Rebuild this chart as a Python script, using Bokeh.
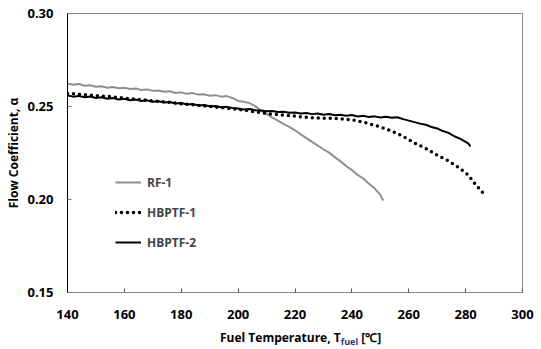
from bokeh.plotting import figure
from bokeh.models import Range1d, Legend, LegendItem, FixedTicker, CustomJSTickFormatter, Div
from bokeh.layouts import column
from bokeh.embed import file_html
from bokeh.resources import INLINE

# ---- data ----
rf1_t = [140, 142, 144, 146, 148, 150, 152, 154, 156, 158, 160, 162, 164, 166, 168, 170,
         172, 174, 176, 178, 180, 182, 184, 186, 188, 190, 192, 194, 196, 198, 200, 202,
         204, 206, 208, 210, 212, 214, 216, 218, 220, 222, 224, 226, 228, 230, 232, 234,
         236, 238, 240, 242, 244, 246, 248, 250, 251]
rf1_a = [0.2622, 0.2617, 0.2621, 0.2612, 0.2614, 0.2606, 0.2609, 0.2601, 0.2605, 0.2598,
         0.2601, 0.2594, 0.2597, 0.2589, 0.2592, 0.2584, 0.2586, 0.2579, 0.2582, 0.2573,
         0.2576, 0.2568, 0.2572, 0.2564, 0.2566, 0.2558, 0.2561, 0.2553, 0.2556, 0.2546,
         0.2530, 0.2526, 0.2518, 0.2502, 0.2478, 0.2460, 0.2440, 0.2424, 0.2405, 0.2390,
         0.2372, 0.2350, 0.2330, 0.2310, 0.2290, 0.2270, 0.2252, 0.2228, 0.2205, 0.2180,
         0.2158, 0.2132, 0.2113, 0.2085, 0.2060, 0.2025, 0.1995]

hb1_t = [140, 145, 150, 155, 160, 165, 170, 175, 180, 185, 190, 195, 200, 205, 210, 215,
         220, 225, 230, 235, 240, 245, 250, 254, 258, 262, 266, 270, 274, 278, 281, 283,
         285, 286.3]
hb1_a = [0.2570, 0.2565, 0.2558, 0.2553, 0.2545, 0.2538, 0.2530, 0.2524, 0.2515, 0.2508,
         0.2500, 0.2492, 0.2484, 0.2474, 0.2462, 0.2455, 0.2448, 0.2441, 0.2437, 0.2436,
         0.2428, 0.2412, 0.2390, 0.2368, 0.2340, 0.2304, 0.2275, 0.2238, 0.2207, 0.2168,
         0.2130, 0.2090, 0.2055, 0.2032]

hb2_t = [140, 142, 144, 146, 148, 150, 152, 154, 156, 158, 160, 162, 164, 166, 168, 170,
         172, 174, 176, 178, 180, 182, 184, 186, 188, 190, 192, 194, 196, 198, 200, 202,
         204, 206, 208, 210, 212, 214, 216, 218, 220, 222, 224, 226, 228, 230, 232, 234,
         236, 238, 240, 242, 244, 246, 248, 250, 252, 254, 256, 258, 260, 262, 264, 266,
         268, 270, 272, 274, 276, 278, 280, 281, 281.7]
hb2_a = [0.2559, 0.2553, 0.2557, 0.2550, 0.2554, 0.2546, 0.2550, 0.2542, 0.2546, 0.2538,
         0.2541, 0.2534, 0.2537, 0.2530, 0.2533, 0.2525, 0.2528, 0.2521, 0.2524, 0.2516,
         0.2519, 0.2511, 0.2513, 0.2506, 0.2508, 0.2501, 0.2503, 0.2496, 0.2498, 0.2492,
         0.2489, 0.2484, 0.2486, 0.2480, 0.2478, 0.2474, 0.2476, 0.2470, 0.2472, 0.2466,
         0.2468, 0.2462, 0.2465, 0.2459, 0.2462, 0.2456, 0.2460, 0.2453, 0.2456, 0.2450,
         0.2454, 0.2446, 0.2450, 0.2443, 0.2447, 0.2441, 0.2445, 0.2439, 0.2442, 0.2432,
         0.2424, 0.2416, 0.2408, 0.2402, 0.2390, 0.2382, 0.2368, 0.2358, 0.2340, 0.2327,
         0.2310, 0.2300, 0.2285]

x_ticks = [140, 160, 180, 200, 220, 240, 260, 280, 300]
y_ticks = [0.15, 0.20, 0.25, 0.30]
series_names = ["RF-1", "HBPTF-1", "HBPTF-2"]

FONT = "Open Sans"

p = figure(width=541, height=330, output_backend="svg", toolbar_location=None,
           x_range=Range1d(140, 300), y_range=Range1d(0.15, 0.30),
           min_border_left=67, min_border_right=19, min_border_top=13, min_border_bottom=38,
           margin=0)
p.xgrid.visible = False
p.ygrid.visible = False
p.outline_line_color = "#8a8a8a"
p.outline_line_width = 1
p.background_fill_color = "white"
p.border_fill_color = "white"

r1 = p.line(rf1_t, rf1_a, line_color="#8f8f8f", line_width=2)
r2 = p.line(hb1_t, hb1_a, line_color="black", line_width=3.5, line_dash="0 6", line_cap="round")
r3 = p.line(hb2_t, hb2_a, line_color="black", line_width=2)

# axes
p.xaxis.ticker = FixedTicker(ticks=x_ticks)
p.yaxis.ticker = FixedTicker(ticks=y_ticks)
p.yaxis.formatter = CustomJSTickFormatter(code="return tick.toFixed(2);")
for ax in (p.xaxis[0], p.yaxis[0]):
    ax.major_tick_in = 4
    ax.major_tick_out = 0
    ax.minor_tick_line_color = None
    ax.major_label_text_font = FONT
    ax.major_label_text_font_style = "bold"
    ax.major_label_text_font_size = "13px"
    ax.major_label_text_color = "black"
p.xaxis.axis_label = None
p.yaxis.axis_label = "Flow Coefficient, \u03b1"
p.yaxis.axis_label_text_font = FONT
p.yaxis.axis_label_text_font_style = "bold"
p.yaxis.axis_label_text_font_size = "12px"
p.yaxis.axis_label_text_color = "black"
p.yaxis.axis_label_standoff = 2
p.yaxis.axis_line_color = "black"
p.yaxis.major_tick_line_color = "#7a7a7a"
p.yaxis.major_label_standoff = 14
p.xaxis.axis_line_color = "#8a8a8a"
p.xaxis.major_tick_line_color = "#555555"
p.xaxis.major_label_standoff = 17

# legend
legend = Legend(items=[LegendItem(label=series_names[0], renderers=[r1]),
                       LegendItem(label=series_names[1], renderers=[r2]),
                       LegendItem(label=series_names[2], renderers=[r3])],
                location=(48, 40), orientation="vertical",
                label_text_font=FONT, label_text_font_style="bold", label_text_font_size="12px",
                glyph_width=26, glyph_height=20, label_height=20, spacing=10, padding=0,
                margin=0, border_line_color=None, background_fill_alpha=0, label_standoff=6)
p.add_layout(legend)

xlabel = Div(text='Fuel Temperature, T<sub style="font-size:9px;color:#1f3f7a;">fuel</sub> [\u2103]',
             width=541, height=19, margin=0,
             styles={"font-family": "Open Sans", "font-weight": "bold", "font-size": "12px",
                     "padding-left": "220px", "line-height": "16px", "color": "black",
                     "white-space": "nowrap"})

layout = column(p, xlabel, spacing=0, margin=0)
open("out.html", "w").write(file_html(layout, INLINE))
